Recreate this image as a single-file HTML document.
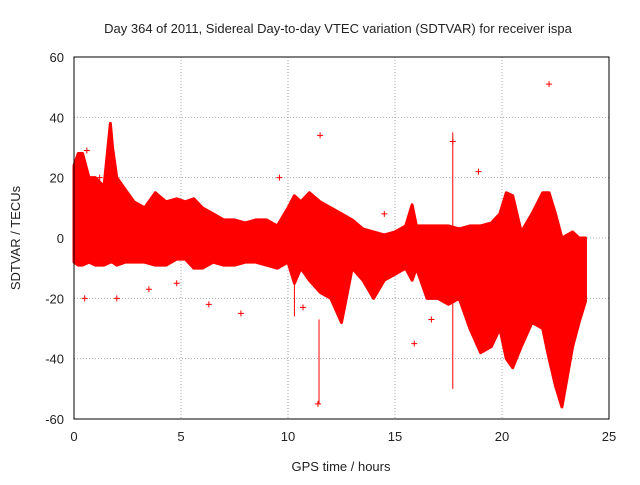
<!DOCTYPE html>
<html><head><meta charset="utf-8"><style>
body{margin:0;background:#fff;font-family:"Liberation Sans",sans-serif}
svg text{font-family:"Liberation Sans",sans-serif;font-size:13px;fill:#222}
</style></head><body>
<svg id="chart" width="640" height="480" xmlns="http://www.w3.org/2000/svg">
<rect width="640" height="480" fill="#fff"/>
<text x="338" y="33" text-anchor="middle">Day 364 of 2011, Sidereal Day-to-day VTEC variation (SDTVAR) for receiver ispa</text>
<text x="341" y="471" text-anchor="middle">GPS time / hours</text>
<text transform="translate(20,238) rotate(-90)" text-anchor="middle">SDTVAR / TECUs</text>
<g id="grid"></g><g id="marks"></g>
<rect x="74" y="57" width="535" height="362" fill="none" stroke="#000" stroke-width="1"/>
</svg>
<script>
const xTicks=[0,5,10,15,20,25];
const yTicks=[-60,-40,-20,0,20,40,60];
const bandTimes=[0,0.2,0.4,0.7,1,1.4,1.7,1.8,2,2.4,2.8,3.3,3.8,4.3,4.8,5.2,5.6,6,6.5,7,7.5,8,8.5,9,9.5,10,10.3,10.6,11,11.5,12,12.5,13,13.5,14,14.5,15,15.5,15.8,16,16.5,17,17.5,18,18.5,19,19.5,19.9,20.2,20.5,20.9,21.4,21.9,22.2,22.5,22.8,23.3,23.6,23.9];
const bandUpper=[24,28,28,20,20,17,38,30,20,16,12,10,15,12,13,12,13,10,8,6,6,5,6,6,4,10,14,12,15,12,10,8,6,3,2,1,2,4,11,4,4,4,4,3,4,4,5,8,15,14,2,8,15,15,8,0,2,0,0];
const bandLower=[-8,-9,-9,-8,-9,-9,-8,-8,-9,-8,-8,-8,-9,-9,-7,-7,-10,-10,-8,-9,-9,-8,-8,-9,-10,-8,-15,-10,-14,-18,-20,-28,-10,-14,-20,-14,-12,-10,-14,-10,-20,-20,-22,-20,-30,-38,-36,-30,-40,-43,-36,-28,-30,-40,-49,-56,-36,-28,-21];
const outT=[11.5,22.2,17.7,11.4,0.5,6.3,7.8,9.6,15.9,10.7,18.9,2.0,4.8,16.7,14.5,3.5,0.6,1.2];
const outV=[34,51,32,-55,-20,-22,-25,20,-35,-23,22,-20,-15,-27,8,-17,29,20];
const errT=[11.45,17.7,10.3];
const errLo=[-55,-50,-26];
const errHi=[-27,35,-5];
const X=t=>74+t*535/25, Y=v=>238-v*362/120;
const ns="http://www.w3.org/2000/svg";
const grid=document.getElementById('grid'), marks=document.getElementById('marks');
function mk(tag,attrs,parent){const e=document.createElementNS(ns,tag);for(const k in attrs)e.setAttribute(k,attrs[k]);parent.appendChild(e);return e;}
xTicks.forEach(t=>{
  const l=mk('line',{x1:X(t),x2:X(t),y1:57,y2:419,stroke:'#aaa','stroke-dasharray':'1,2'},grid);
  
  
  const tx=mk('text',{x:X(t),y:441,'text-anchor':'middle'},grid);tx.textContent=t;
  
  
});
yTicks.forEach(v=>{
  const l=mk('line',{x1:74,x2:609,y1:Y(v),y2:Y(v),stroke:'#aaa','stroke-dasharray':'1,2'},grid);
  
  
  const tx=mk('text',{x:64,y:Y(v)+5,'text-anchor':'end'},grid);tx.textContent=v;
  
  
});
let pts=bandTimes.map((t,i)=>X(t)+','+Y(bandUpper[i]));
for(let i=bandTimes.length-1;i>=0;i--)pts.push(X(bandTimes[i])+','+Y(bandLower[i]));
const band=mk('polygon',{points:pts.join(' '),fill:'#f00',stroke:'#f00','stroke-width':3,'stroke-linejoin':'round'},marks);


errT.forEach((t,i)=>{
  const l=mk('line',{x1:X(t),x2:X(t),y1:Y(errLo[i]),y2:Y(errHi[i]),stroke:'#f00','stroke-width':1},marks);
  
  
});
outT.forEach((t,i)=>{
  const x=X(t),y=Y(outV[i]);
  const p=mk('path',{d:`M${x-3},${y}h6M${x},${y-3}v6`,stroke:'#f00','stroke-width':1},marks);
  
  
});
</script>
</body></html>
